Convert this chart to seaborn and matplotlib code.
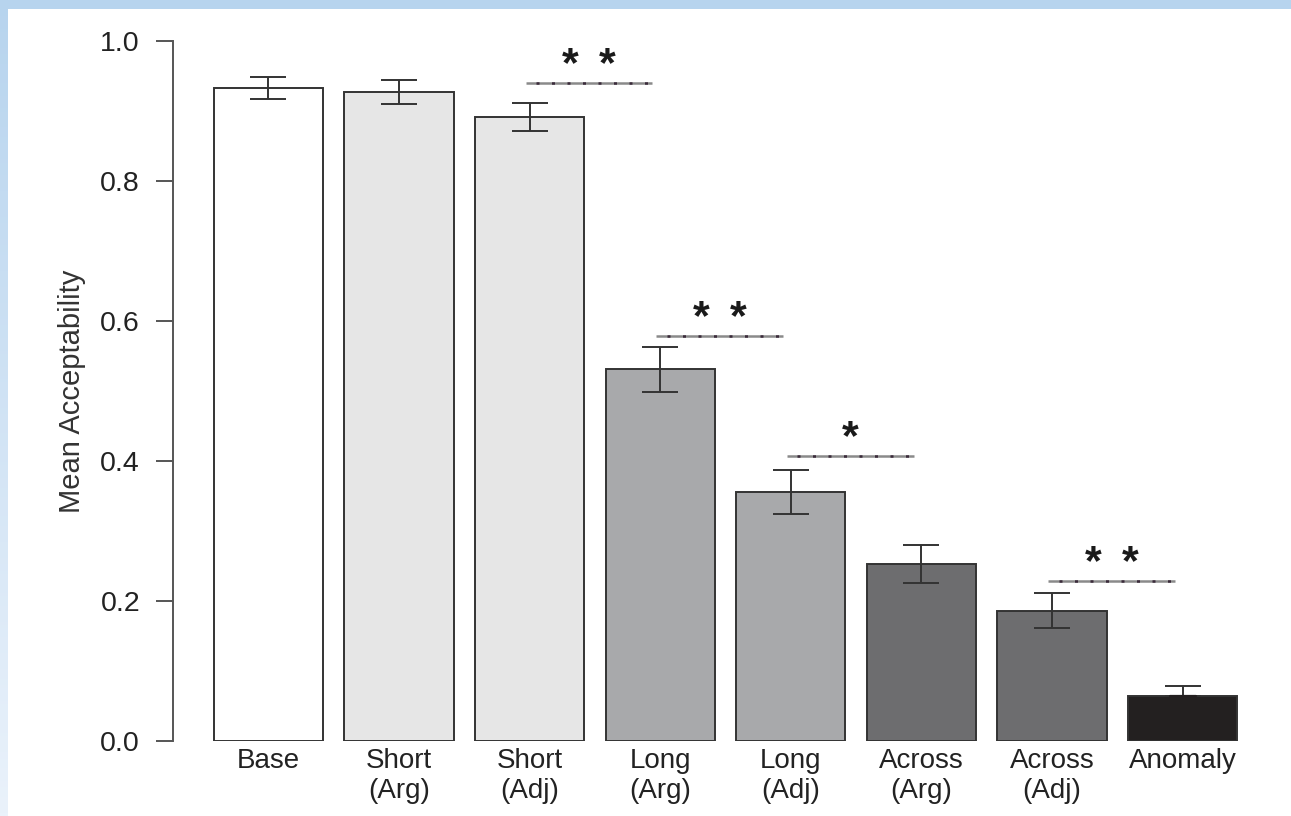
import matplotlib
matplotlib.use("Agg")
import matplotlib.pyplot as plt
import numpy as np
import pandas as pd
import seaborn as sns
from matplotlib.colors import LinearSegmentedColormap

categories = ["Base", "Short\n(Arg)", "Short\n(Adj)", "Long\n(Arg)", "Long\n(Adj)",
              "Across\n(Arg)", "Across\n(Adj)", "Anomaly"]
means = [0.933, 0.927, 0.891, 0.531, 0.356, 0.253, 0.186, 0.064]
errors = [0.016, 0.017, 0.020, 0.032, 0.031, 0.027, 0.025, 0.015]
bar_colors = ["#ffffff", "#e6e6e6", "#e6e6e6", "#a8a9ab", "#a8a9ab",
              "#6d6d6f", "#6d6d6f", "#231f20"]
yticks = [0.0, 0.2, 0.4, 0.6, 0.8, 1.0]
# significance comparisons: (left bar index, right bar index, line height, number of stars)
sig_left = [2, 3, 4, 6]
sig_right = [3, 4, 5, 7]
sig_height = [0.940, 0.579, 0.407, 0.229]
sig_stars = [2, 2, 1, 2]

sns.set_theme(style="white")
plt.rcParams["font.family"] = ["Liberation Sans", "DejaVu Sans"]

fig = plt.figure(figsize=(12.91, 8.16), dpi=100)
fig.patch.set_facecolor("white")

# light blue frame (top strip and left gradient strip)
top = fig.add_axes([0, 1 - 9 / 816, 1, 9 / 816])
top.set_axis_off()
top.add_patch(plt.Rectangle((0, 0), 1, 1, color="#b7d4ee", transform=top.transAxes))
left = fig.add_axes([0, 0, 8 / 1291, 1])
left.set_axis_off()
grad = np.linspace(0, 1, 256).reshape(-1, 1)
cm = LinearSegmentedColormap.from_list("g", ["#b7d4ee", "#eaf2fb"])
left.imshow(grad, aspect="auto", cmap=cm, extent=[0, 1, 0, 1], origin="upper")

ax = fig.add_axes([190 / 1291, 75 / 816, 1071 / 1291, 700 / 816])
df = pd.DataFrame({"cond": categories, "mean": means})
sns.barplot(data=df, x="cond", y="mean", hue="cond", palette=bar_colors,
            width=0.835, edgecolor="#333333", linewidth=1.4, legend=False, ax=ax,
            errorbar=None)
xs = np.arange(len(categories))
err = np.array(errors)
# lower half of the last (black) bar's error bar is not visible in the original
lower = err.copy()
lower[-1] = 0.0
ax.errorbar(xs, means, yerr=[lower, err], fmt="none", ecolor="#333333",
            elinewidth=1.4, capsize=13, capthick=1.4, zorder=5)
ax.plot([xs[-1] - 0.1, xs[-1] + 0.1], [means[-1], means[-1]], color="#231f20",
        lw=1.6, zorder=6)

star_dx = 0.142
for l, r, h, n in zip(sig_left, sig_right, sig_height, sig_stars):
    x0, x1 = xs[l] - 0.03, xs[r] - 0.06
    ax.plot([x0, x1], [h, h], color="#8a8a8a", lw=1.8, solid_capstyle="butt",
            clip_on=False, zorder=6)
    ax.plot([x0 + 0.08, x1], [h, h], color="#3a2a3a", lw=1.8,
            linestyle=(0, (1.2, 5.0)), clip_on=False, zorder=7)
    xc = (x0 + x1) / 2
    offs = [0.0] if n == 1 else [-star_dx, star_dx]
    for o in offs:
        ax.text(xc + o, h + 0.010, "*", ha="center", va="baseline",
                fontsize=31, fontweight="bold", color="#1a1a1a", clip_on=False)

ax.set_xlim(-0.6, 7.6)
ax.set_ylim(0, 1.0)
ax.set_yticks(yticks)
ax.set_yticklabels([f"{v:.1f}" for v in yticks])
ax.set_xlabel("")
ax.set_ylabel("Mean Acceptability", fontsize=21, color="#333333", labelpad=10)
ax.tick_params(axis="y", left=True, length=12, width=1.4, color="#555555",
               labelsize=20.5, labelcolor="#222222", pad=12)
ax.tick_params(axis="x", bottom=False, length=0, labelsize=20,
               labelcolor="#222222", pad=5)
for s in ["top", "right", "bottom"]:
    ax.spines[s].set_visible(False)
ax.spines["left"].set_position(("outward", 12))
ax.spines["left"].set_color("#555555")
ax.spines["left"].set_linewidth(1.4)
ax.spines["left"].set_bounds(0, 1.0)
ax.set_facecolor("none")

fig.savefig("out.png", dpi=100, facecolor="white")
